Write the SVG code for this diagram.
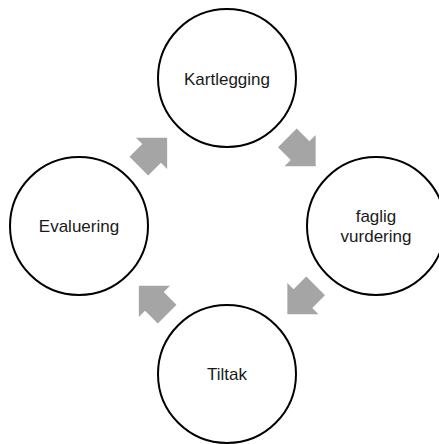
<svg xmlns="http://www.w3.org/2000/svg" width="439" height="444" viewBox="0 0 439 444">
<defs>
<style>
.node circle{fill:#FFFFFF;stroke:#000000;stroke-width:2}
.node text{font-family:"Liberation Sans",Arial,sans-serif;font-size:17px;fill:#1a1a1a;text-anchor:middle}
.arrow{fill:#A5A5A5}
</style>
<path id="arr" d="M20,0 L-2,-22 L-2,-13.2 L-20,-13.2 L-20,13.2 L-2,13.2 L-2,22 Z"/>
</defs>
<rect width="439" height="444" fill="#FFFFFF"/>
<g id="connectors">
<use href="#arr" class="arrow" transform="translate(301.5,152) rotate(45)"/>
<use href="#arr" class="arrow" transform="translate(301.5,300) rotate(135)"/>
<use href="#arr" class="arrow" transform="translate(153,300) rotate(225)"/>
<use href="#arr" class="arrow" transform="translate(153,152) rotate(315)"/>
</g>
<g id="kartlegging" class="node">
<circle cx="227" cy="78" r="69"/>
<text x="227" y="84.5">Kartlegging</text>
</g>
<g id="faglig-vurdering" class="node">
<circle cx="376" cy="226" r="69"/>
<text x="376" y="222">faglig</text>
<text x="376" y="242">vurdering</text>
</g>
<g id="tiltak" class="node">
<circle cx="227" cy="374" r="69"/>
<text x="227" y="380">Tiltak</text>
</g>
<g id="evaluering" class="node">
<circle cx="79" cy="226" r="69"/>
<text x="79" y="232">Evaluering</text>
</g>
</svg>
